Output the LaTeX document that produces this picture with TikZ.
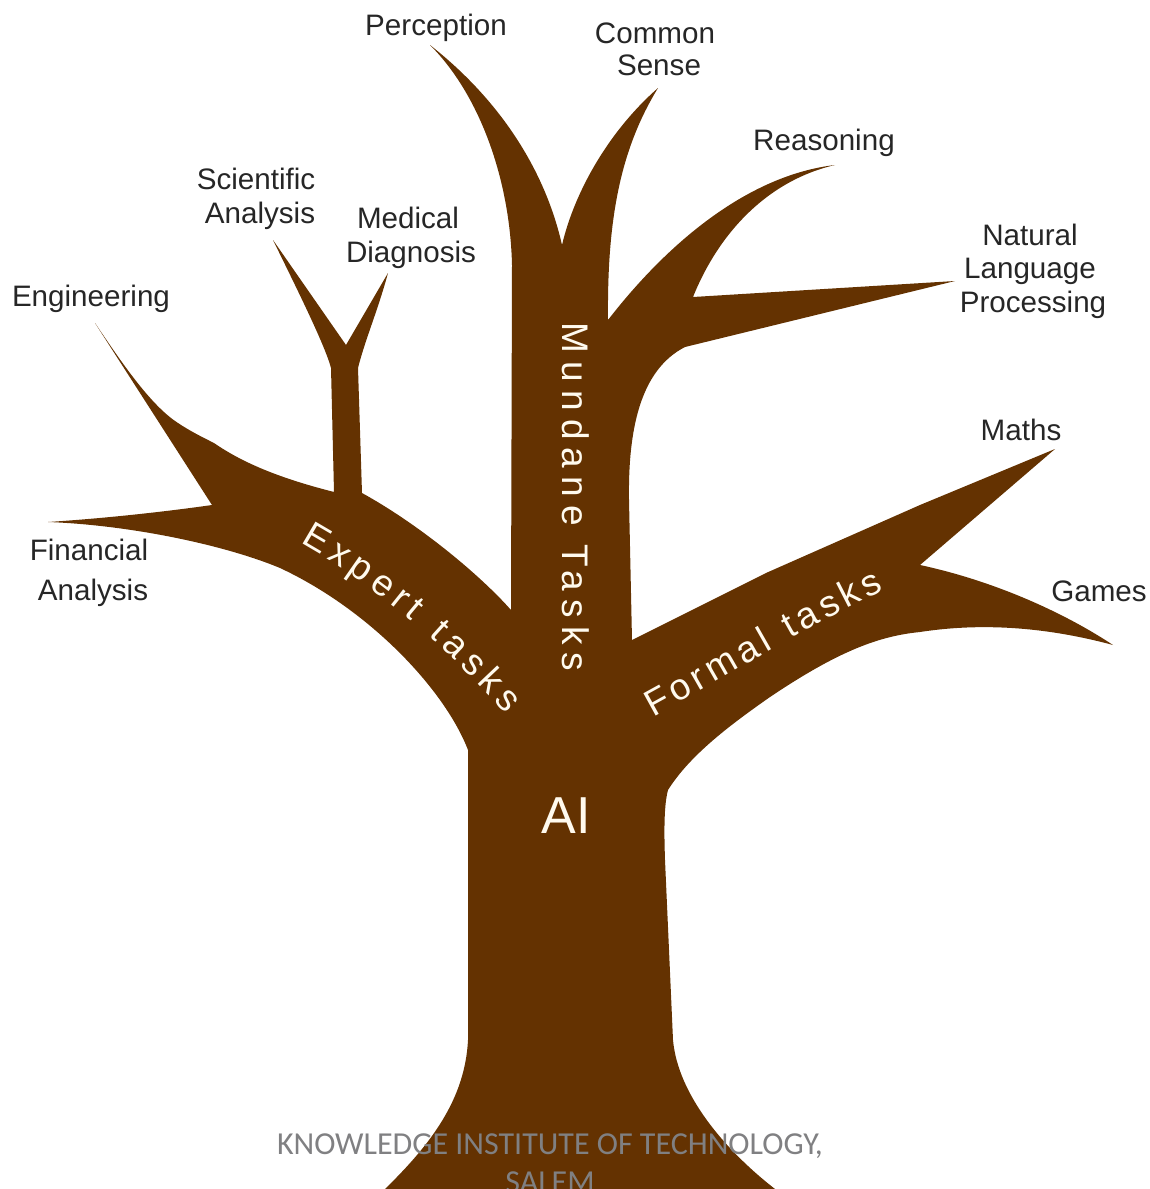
\documentclass[tikz,border=0pt]{standalone}
\usepackage{fontspec}
\setmainfont{Liberation Sans}
\newfontfamily\footfont{Carlito}
\usetikzlibrary{decorations.text}
\definecolor{bark}{RGB}{100,50,1}
\definecolor{footgray}{RGB}{128,128,130}
\definecolor{cream}{RGB}{255,250,238}
\tikzset{
  lab/.style={font=\fontsize{29.6}{34}\selectfont, text=black!85, align=center, inner sep=0pt},
  ontree/.style={font=\fontsize{37}{40}\selectfont, text=cream, inner sep=0pt},
  curvedtext/.style={decorate, decoration={text along path, text align=fit to path, text={|\fontsize{37}{40}\selectfont\color{cream}|#1}}},
  foot/.style={font=\footfont\fontsize{32}{38}\selectfont, text=footgray, align=center, inner sep=0pt}
}
\begin{document}
\begin{tikzpicture}[x=1pt,y=-1pt]
\useasboundingbox (0,0) rectangle (1149,1189);
\begin{scope}
\clip (0,0) rectangle (1149,1189);
\fill[bark] (385,1189) .. controls (430,1145) and (465,1100) .. (468,1040)
 -- (468,750) .. controls (445,690) and (370,610) .. (280,568)
 .. controls (225,545) and (130,525) .. (48,522)
 .. controls (110,518) and (170,511) .. (212,505)
 -- (95,323) .. controls (120,360) and (150,405) .. (178,423)
 .. controls (190,431) and (202,437) .. (214,443)
 .. controls (250,468) and (295,482) .. (334,492)
 -- (331,368) .. controls (325,345) and (295,285) .. (273,240)
 -- (346,345) -- (388,273) .. controls (378,310) and (365,340) .. (358,368)
 -- (362,493)
 .. controls (420,525) and (480,575) .. (511,610)
 -- (512,265) .. controls (510,180) and (480,95) .. (430,45)
 .. controls (500,100) and (545,170) .. (562,245)
 .. controls (575,190) and (610,130) .. (658,88)
 .. controls (620,150) and (607,220) .. (608,320)
 .. controls (670,240) and (750,175) .. (835,165)
 .. controls (770,180) and (720,230) .. (693,297)
 -- (955,281) -- (685,347)
 .. controls (640,370) and (628,430) .. (629,500)
 -- (632,640) -- (766,573) -- (920,505) -- (1055,449) -- (920,565)
 .. controls (990,580) and (1060,610) .. (1113,645)
 .. controls (1050,628) and (985,622) .. (920,632)
 .. controls (880,636) and (840,650) .. (770,697)
 .. controls (730,725) and (690,755) .. (668,790)
 .. controls (664,805) and (664,830) .. (665,860)
 -- (673,1040) .. controls (678,1095) and (725,1150) .. (775,1189) -- cycle;
\end{scope}
\node[lab] (perception) at (436,28) {Perception};
\node[lab] (common) at (655,49) {Common\\[-2pt]\hspace*{8pt}Sense};
\node[lab] (reasoning) at (824,143) {Reasoning};
\node[lab] (nlp) at (1030,271) {Natural\\[-1pt]Language\\\hspace*{6pt}Processing};
\node[lab] (maths) at (1021,430) {Maths};
\node[lab] (games) at (1099,591) {Games};
\node[lab] (sci) at (258,199) {\hspace*{-4pt}Scientific\\\hspace*{4pt}Analysis};
\node[lab] (med) at (411,238) {\hspace*{-6pt}Medical\\Diagnosis};
\node[lab] (eng) at (91,299) {Engineering};
\node[lab] (fin) at (91,573) {\hspace*{-4pt}Financial\\[6pt]\hspace*{4pt}Analysis};
\node[font=\fontsize{52}{56}\selectfont,text=cream,inner sep=0pt] (ai) at (566,816) {AI};
\node[ontree,rotate=-90] (mundane) at (576,497) {\addfontfeature{LetterSpace=22}Mundane Tasks};
\path[curvedtext={Formal tasks}] (653,717) .. controls (730,675) and (810,625) .. (884,590);
\path[curvedtext={Expert tasks}] (300,543) .. controls (375,585) and (445,645) .. (506,714);
\begin{scope}
\clip (0,0) rectangle (1149,1189);
\node[foot] (footer) at (550,1163) {KNOWLEDGE INSTITUTE OF TECHNOLOGY,\\SALEM};
\end{scope}
\end{tikzpicture}
\end{document}
